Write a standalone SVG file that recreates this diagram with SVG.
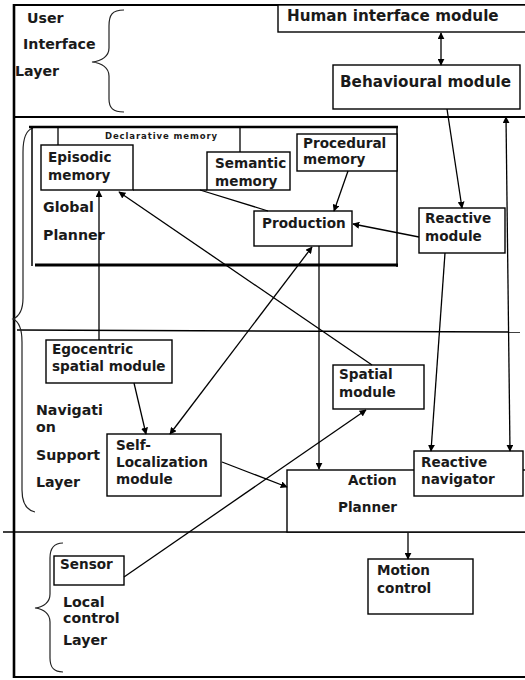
<svg xmlns="http://www.w3.org/2000/svg" width="525" height="680" viewBox="0 0 525 680">
  <style>
    .t { font-family: "DejaVu Sans", "Liberation Sans", sans-serif; font-weight: bold; font-size: 13.6px; fill: #1a1a1a; }
    .th { font-family: "DejaVu Sans", "Liberation Sans", sans-serif; font-weight: bold; font-size: 15.2px; fill: #1a1a1a; }
    .tl { font-family: "DejaVu Sans", "Liberation Sans", sans-serif; font-weight: bold; font-size: 14.2px; fill: #1a1a1a; }
    .tiny { font-family: "DejaVu Sans", "Liberation Sans", sans-serif; font-weight: bold; font-size: 8.5px; letter-spacing: 0.9px; fill: #1a1a1a; }
    .box { fill: #ffffff; stroke: #000000; stroke-width: 1.4; }
    .frame { fill: none; stroke: #000000; }
    .c { fill: none; stroke: #000000; stroke-width: 1.3; }
    .brace { fill: none; stroke: #222222; stroke-width: 1.2; }
  </style>
  <defs>
    <marker id="ah" viewBox="0 0 10 10" refX="9" refY="5" markerWidth="7" markerHeight="7" markerUnits="userSpaceOnUse" orient="auto-start-reverse">
      <path d="M0,0 L10,5 L0,10 z" fill="#000000"/>
    </marker>
  </defs>

  <rect width="525" height="680" fill="#ffffff"/>

  <!-- outer frame and layer dividers -->
  <g id="frame">
    <line class="frame" x1="13" y1="5" x2="525" y2="5" stroke-width="2"/>
    <line class="frame" x1="14" y1="4" x2="14" y2="678" stroke-width="2.6"/>
    <line class="frame" x1="13" y1="677" x2="525" y2="677" stroke-width="2"/>
    <line class="frame" x1="13" y1="117" x2="525" y2="117" stroke-width="2"/>
    <line class="frame" x1="17" y1="330" x2="520" y2="332" stroke-width="1.5"/>
    <line class="frame" x1="3" y1="532" x2="525" y2="532" stroke-width="1.5"/>
  </g>

  <!-- layer labels and braces -->
  <g id="user-interface-layer">
    <path class="brace" d="M124,10 C112,10 109,15 109,26 L109,48 C109,56 102,61 92,62 C102,63 109,68 109,76 L109,99 C109,108 113,112 124,112"/>
    <text class="tl" x="27" y="23">User</text>
    <text class="tl" x="23" y="49">Interface</text>
    <text class="tl" x="15" y="76">Layer</text>
  </g>

  <g id="navigation-support-layer">
    <path class="brace" d="M33,128 C26,130 23,138 23,152 L23,298 C23,310 20,316 13,319 C20,322 22,330 22,342 L22,490 C22,503 26,510 35,512"/>
    <text class="tl" x="36" y="415">Navigati</text>
    <text class="tl" x="36" y="432">on</text>
    <text class="tl" x="36" y="460">Support</text>
    <text class="tl" x="36" y="487">Layer</text>
  </g>

  <g id="local-control-layer">
    <path class="brace" d="M63,543 C54,543 50,548 50,558 L50,594 C50,602 44,607 35,608 C44,609 50,614 50,622 L50,658 C50,668 54,672 63,672"/>
    <text class="tl" x="63" y="607">Local</text>
    <text class="tl" x="63" y="623">control</text>
    <text class="tl" x="63" y="645">Layer</text>
  </g>

  <!-- global planner container -->
  <g id="global-planner">
    <line class="frame" x1="29" y1="127" x2="398" y2="127" stroke-width="2.4"/>
    <line class="frame" x1="32" y1="128" x2="32" y2="266" stroke-width="1.5"/>
    <line class="frame" x1="397" y1="127" x2="397" y2="267" stroke-width="1.5"/>
    <line class="frame" x1="35" y1="265" x2="398" y2="265" stroke-width="3"/>
    <text class="tl" x="43" y="212">Global</text>
    <text class="tl" x="43" y="240">Planner</text>
  </g>

  <g id="declarative-memory">
    <line class="frame" x1="58" y1="127" x2="58" y2="145" stroke-width="1.3"/>
    <line class="frame" x1="240" y1="127" x2="240" y2="152" stroke-width="1.3"/>
    <text class="tiny" x="105" y="139">Declarative memory</text>
  </g>

  <g id="episodic-memory">
    <rect class="box" x="41" y="145" width="92" height="45"/>
    <text class="t" x="48" y="162">Episodic</text>
    <text class="t" x="48" y="180">memory</text>
  </g>

  <g id="semantic-memory">
    <rect class="box" x="207" y="152" width="83" height="38"/>
    <text class="t" x="215" y="168">Semantic</text>
    <text class="t" x="215" y="186">memory</text>
  </g>

  <g id="procedural-memory">
    <rect class="box" x="297" y="134" width="100" height="37"/>
    <text class="t" x="303" y="148">Procedural</text>
    <text class="t" x="303" y="164">memory</text>
  </g>

  <g id="production">
    <rect class="box" x="254" y="211" width="98" height="35"/>
    <text class="t" x="262" y="228">Production</text>
  </g>

  <g id="human-interface-module">
    <rect class="box" x="278" y="5" width="260" height="27"/>
    <text class="th" x="287" y="21">Human interface module</text>
  </g>

  <g id="behavioural-module">
    <rect class="box" x="333" y="65" width="187" height="44"/>
    <text class="th" x="340" y="87">Behavioural module</text>
  </g>

  <g id="reactive-module">
    <rect class="box" x="419" y="208" width="86" height="45"/>
    <text class="t" x="425" y="223">Reactive</text>
    <text class="t" x="425" y="241">module</text>
  </g>

  <g id="egocentric-spatial-module">
    <rect class="box" x="46" y="340" width="126" height="43"/>
    <text class="t" x="52" y="354">Egocentric</text>
    <text class="t" x="52" y="371">spatial module</text>
  </g>

  <g id="spatial-module">
    <rect class="box" x="333" y="365" width="91" height="44"/>
    <text class="t" x="339" y="379">Spatial</text>
    <text class="t" x="339" y="397">module</text>
  </g>

  <g id="self-localization-module">
    <rect class="box" x="107" y="434" width="114" height="62"/>
    <text class="t" x="116" y="450">Self-</text>
    <text class="t" x="116" y="467">Localization</text>
    <text class="t" x="116" y="484">module</text>
  </g>

  <g id="action-planner">
    <rect class="box" x="287" y="470" width="250" height="62"/>
    <text class="t" x="348" y="485">Action</text>
    <text class="t" x="338" y="512">Planner</text>
  </g>

  <g id="reactive-navigator">
    <rect class="box" x="414" y="451" width="109" height="45"/>
    <text class="t" x="421" y="467">Reactive</text>
    <text class="t" x="421" y="484">navigator</text>
  </g>

  <g id="sensor">
    <rect class="box" x="54" y="556" width="70" height="29"/>
    <text class="t" x="60" y="569">Sensor</text>
  </g>

  <g id="motion-control">
    <rect class="box" x="368" y="559" width="105" height="55"/>
    <text class="t" x="377" y="575">Motion</text>
    <text class="t" x="377" y="593">control</text>
  </g>

  <!-- connectors -->
  <g id="connectors">
    <line class="c" x1="441" y1="33" x2="441" y2="65" marker-start="url(#ah)" marker-end="url(#ah)" stroke-width="1.8"/>
    <line class="c" x1="447" y1="109" x2="462" y2="208" marker-end="url(#ah)"/>
    <line class="c" x1="506" y1="117" x2="510" y2="451" marker-start="url(#ah)" marker-end="url(#ah)"/>
    <line class="c" x1="348" y1="171" x2="334" y2="211" marker-end="url(#ah)"/>
    <line class="c" x1="419" y1="237" x2="353" y2="224" marker-end="url(#ah)" stroke-width="2.2"/>
    <polyline class="c" points="133,190 207,190"/>
    <line class="c" x1="200" y1="190" x2="268" y2="211"/>
    <line class="c" x1="99" y1="340" x2="99" y2="191" marker-end="url(#ah)"/>
    <line class="c" x1="372" y1="365" x2="119" y2="192" marker-end="url(#ah)"/>
    <line class="c" x1="312" y1="247" x2="170" y2="434" marker-start="url(#ah)" marker-end="url(#ah)"/>
    <line class="c" x1="134" y1="383" x2="146" y2="434" marker-end="url(#ah)"/>
    <line class="c" x1="319" y1="246" x2="319" y2="469" marker-end="url(#ah)"/>
    <line class="c" x1="222" y1="462" x2="287" y2="487" marker-end="url(#ah)"/>
    <line class="c" x1="124" y1="577" x2="366" y2="410" marker-end="url(#ah)"/>
    <line class="c" x1="445" y1="253" x2="431" y2="451" marker-end="url(#ah)"/>
    <line class="c" x1="408" y1="533" x2="408" y2="559" marker-end="url(#ah)"/>
  </g>
</svg>
